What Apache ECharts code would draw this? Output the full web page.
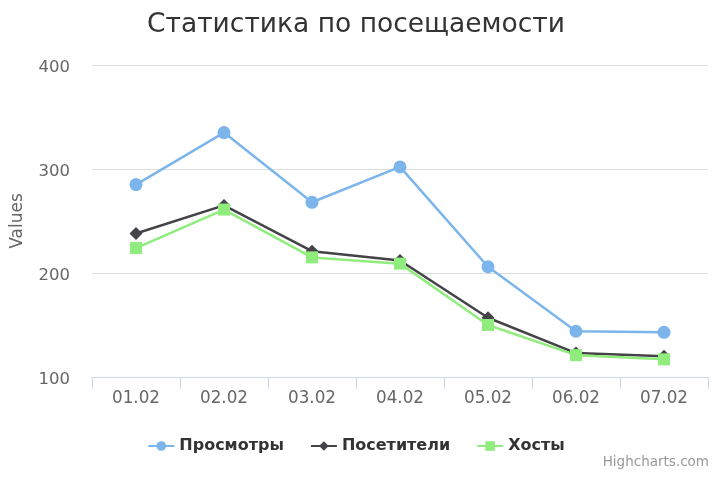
<!DOCTYPE html>
<html>
<head>
<meta charset="utf-8">
<script src="https://cdn.jsdelivr.net/npm/echarts@6/dist/echarts.min.js"></script>
<style>
html,body{margin:0;padding:0;background:#fff;}
#chart{width:712px;height:478px;}
</style>
</head>
<body>
<div id="chart"></div>
<script>
var days = ['01.02','02.02','03.02','04.02','05.02','06.02','07.02'];
var views = [285, 335, 268, 302, 206, 144, 143];
var visitors = [238, 265, 221, 212, 157, 123, 120];
var hosts = [224, 261, 215, 209, 150, 121, 117];
var yTicks = [100, 200, 300, 400];

var font = '"DejaVu Sans", sans-serif';
var el = echarts.init(document.getElementById('chart'));
var elData = {
    animation: false,
    textStyle: { fontFamily: font },
    title: {
        text: 'Статистика по посещаемости',
        left: 'center',
        top: 7,
        textStyle: { fontSize: 26.5, fontWeight: 'normal', color: '#333', fontFamily: font }
    },
    legend: {
        bottom: 19,
        left: 'center',
        itemGap: 26,
        itemWidth: 26,
        itemHeight: 12,
        textStyle: { fontSize: 16, fontWeight: 'bold', color: '#333', fontFamily: font },
        data: ['Просмотры', 'Посетители', 'Хосты']
    },
    graphic: [{
        type: 'text',
        right: 3,
        bottom: 9,
        style: { text: 'Highcharts.com', fill: '#999', font: '13.5px ' + font }
    }],
    grid: { left: 92, right: 4, top: 65, bottom: 101, containLabel: false },
    xAxis: {
        type: 'category',
        data: days,
        boundaryGap: true,
        axisLine: { lineStyle: { color: '#ccd6eb', width: 1 } },
        axisTick: { show: true, length: 12, lineStyle: { color: '#ccd6eb' } },
        axisLabel: { color: '#666', fontSize: 16.8, margin: 13, fontFamily: font }
    },
    yAxis: {
        type: 'value',
        min: yTicks[0],
        max: yTicks[yTicks.length - 1],
        interval: 100,
        name: 'Values',
        nameLocation: 'middle',
        nameGap: 66,
        nameTextStyle: { color: '#666', fontSize: 17, fontFamily: font },
        axisLine: { show: false },
        axisTick: { show: false },
        axisLabel: { color: '#666', fontSize: 16.5, margin: 22, verticalAlign: 'top', lineHeight: 6, fontFamily: font },
        splitLine: { lineStyle: { color: '#dcdcdc', width: 1.2 } }
    },
    series: [
        {
            name: 'Просмотры', type: 'line', data: views,
            symbol: 'circle', symbolSize: 13,
            lineStyle: { width: 2.5, color: '#7cb5ec' },
            itemStyle: { color: '#7cb5ec' }
        },
        {
            name: 'Посетители', type: 'line', data: visitors,
            symbol: 'diamond', symbolSize: 13,
            lineStyle: { width: 2.5, color: '#434348' },
            itemStyle: { color: '#434348' }
        },
        {
            name: 'Хосты', type: 'line', data: hosts,
            symbol: 'rect', symbolSize: 12,
            lineStyle: { width: 2.5, color: '#90ed7d' },
            itemStyle: { color: '#90ed7d' }
        }
    ]
};
el.setOption(elData);
</script>
</body>
</html>
